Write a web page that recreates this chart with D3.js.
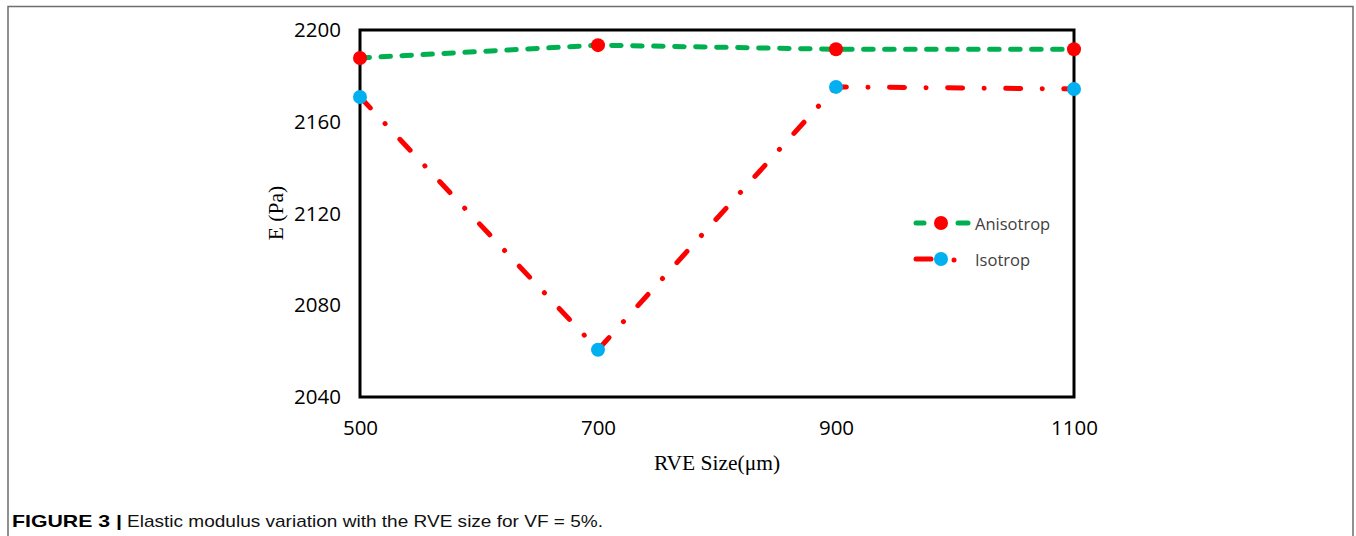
<!DOCTYPE html>
<html><head><meta charset="utf-8">
<script src="https://cdn.jsdelivr.net/npm/d3@7"></script>
<style>body{margin:0;background:#fff}svg{display:block}</style>
</head><body>
<svg id="c" width="1356" height="536"></svg>
<script>
const rveSizes = [500, 700, 900, 1100];
const anisotrop = [2187.8, 2193.4, 2191.6, 2191.6];
const isotrop = [2170.8, 2060.6, 2175.2, 2174.3];
const yTicks = [2040, 2080, 2120, 2160, 2200];
const xTicks = [500, 700, 900, 1100];
const seriesNames = ["Anisotrop", "Isotrop"];

const svg = d3.select("#c");
const L = 360, R = 1074, T = 30, B = 397;
const x = d3.scaleLinear().domain([500, 1100]).range([L, R]);
const y = d3.scaleLinear().domain([2040, 2200]).range([B, T]);

// outer figure frame
svg.append("path").attr("d", "M8,536 V6.5 H1353 V536").attr("fill", "none")
  .attr("stroke", "#6e6e6e").attr("stroke-width", 1.5);

// plot frame
svg.append("rect").attr("x", L).attr("y", T).attr("width", R - L).attr("height", B - T)
  .attr("fill", "none").attr("stroke", "#000").attr("stroke-width", 3);

const tickFont = "'Open Sans', 'Liberation Sans', sans-serif";
const yAxis = d3.axisLeft(y).tickValues(yTicks).tickSize(0).tickPadding(19).tickFormat(d3.format("d"));
const ga = svg.append("g").attr("transform", `translate(${L},0)`).call(yAxis);
ga.select(".domain").remove();
ga.selectAll("text").attr("font-family", tickFont).attr("font-size", 20.5).attr("fill", "#000");

const xAxis = d3.axisBottom(x).tickValues(xTicks).tickSize(0).tickPadding(23).tickFormat(d3.format("d"));
const gx = svg.append("g").attr("transform", `translate(0,${B})`).call(xAxis);
gx.select(".domain").remove();
gx.selectAll("text").attr("font-family", tickFont).attr("font-size", 20.5).attr("fill", "#000");

// axis titles
svg.append("text").attr("transform", "translate(283,213) rotate(-90)").attr("text-anchor", "middle")
  .attr("font-family", "'Liberation Serif', serif").attr("font-size", 21.5).text("E (Pa)");
svg.append("text").attr("x", 717).attr("y", 470).attr("text-anchor", "middle")
  .attr("font-family", "'Liberation Serif', serif").attr("font-size", 21.5).text("RVE Size(\u03bcm)");

const line = d3.line().x(d => x(d[0])).y(d => y(d[1]));
const isoPts = rveSizes.map((s, i) => [s, isotrop[i]]);
const aniPts = rveSizes.map((s, i) => [s, anisotrop[i]]);

svg.append("path").datum(isoPts).attr("d", line).attr("fill", "none").attr("stroke", "#ff0000")
  .attr("stroke-width", 5).attr("stroke-linecap", "round").attr("stroke-dasharray", "15 21.5 0.1 21.5");
svg.append("path").datum(aniPts).attr("d", line).attr("fill", "none").attr("stroke", "#00b050")
  .attr("stroke-width", 5).attr("stroke-linecap", "round").attr("stroke-dasharray", "9.5 11.5");

svg.selectAll(".ma").data(aniPts).enter().append("circle").attr("cx", d => x(d[0])).attr("cy", d => y(d[1]))
  .attr("r", 7).attr("fill", "#ff0000");
svg.selectAll(".mi").data(isoPts).enter().append("circle").attr("cx", d => x(d[0])).attr("cy", d => y(d[1]))
  .attr("r", 7).attr("fill", "#00b0f0");

// legend
const lg = svg.append("g");
lg.append("line").attr("x1", 916).attr("x2", 924).attr("y1", 223).attr("y2", 223).attr("stroke", "#00b050").attr("stroke-width", 5).attr("stroke-linecap", "round");
lg.append("line").attr("x1", 958).attr("x2", 968).attr("y1", 223).attr("y2", 223).attr("stroke", "#00b050").attr("stroke-width", 5).attr("stroke-linecap", "round");
lg.append("circle").attr("cx", 941).attr("cy", 223).attr("r", 7).attr("fill", "#ff0000");
lg.append("text").attr("x", 975).attr("y", 230).attr("font-family", tickFont).attr("font-size", 16.5).attr("fill", "#404040").text(seriesNames[0]);
lg.append("line").attr("x1", 916).attr("x2", 931).attr("y1", 259).attr("y2", 259).attr("stroke", "#ff0000").attr("stroke-width", 5).attr("stroke-linecap", "round");
lg.append("circle").attr("cx", 954).attr("cy", 260).attr("r", 2.5).attr("fill", "#ff0000");
lg.append("circle").attr("cx", 941).attr("cy", 259).attr("r", 7).attr("fill", "#00b0f0");
lg.append("text").attr("x", 975).attr("y", 266).attr("font-family", tickFont).attr("font-size", 16.5).attr("fill", "#404040").text(seriesNames[1]);

// caption
const capFont = "'Liberation Sans', Arial, sans-serif";
svg.append("text").attr("x", 12).attr("y", 527).attr("font-family", capFont).attr("font-size", 17)
  .attr("font-weight", "bold").attr("textLength", 110).attr("lengthAdjust", "spacingAndGlyphs").text("FIGURE 3 |");
svg.append("text").attr("x", 127).attr("y", 527).attr("font-family", capFont).attr("font-size", 17)
  .attr("textLength", 476).attr("lengthAdjust", "spacingAndGlyphs").attr("fill", "#111")
  .text("Elastic modulus variation with the RVE size for VF = 5%.");
</script>
</body></html>
